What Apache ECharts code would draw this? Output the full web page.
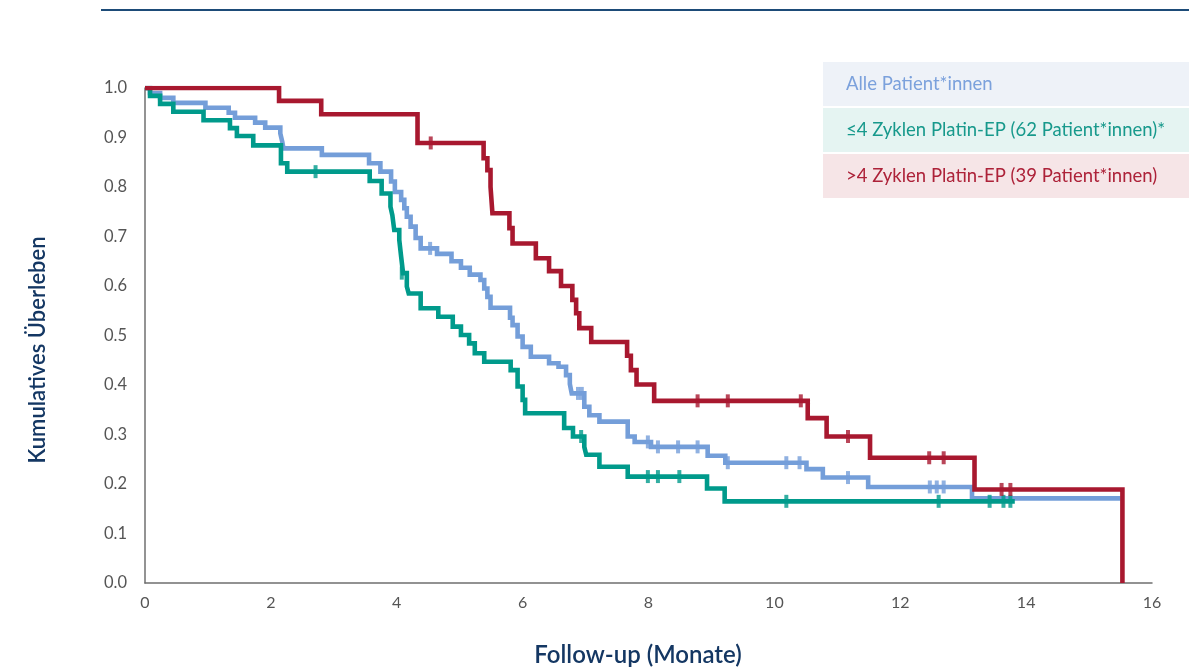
<!DOCTYPE html>
<html>
<head>
<meta charset="utf-8">
<script src="https://cdn.jsdelivr.net/npm/echarts@6/dist/echarts.min.js"></script>
<style>
html,body{margin:0;padding:0;background:#fff;}
#chart{width:1189px;height:669px;}
</style>
</head>
<body>
<div id="chart"></div>
<script>
// ---- Data ----
const seriesNames = ['Alle Patient*innen', '≤4 Zyklen Platin-EP (62 Patient*innen)*', '>4 Zyklen Platin-EP (39 Patient*innen)'];
const xAxisTitle = 'Follow-up (Monate)';
const yAxisTitle = 'Kumulatives Überleben';
const xTicks = [0, 2, 4, 6, 8, 10, 12, 14, 16];
const yTicks = [0, 0.1, 0.2, 0.3, 0.4, 0.5, 0.6, 0.7, 0.8, 0.9, 1.0];

// All patients: [time (months), survival]
const allCurve = [
  [0, 1.0], [0.08, 0.99], [0.24, 0.98], [0.45, 0.97], [0.96, 0.96], [1.33, 0.95], [1.43, 0.94],
  [1.75, 0.93], [1.91, 0.92], [2.15, 0.908], [2.18, 0.892], [2.20, 0.878], [2.81, 0.865],
  [3.56, 0.848], [3.74, 0.831], [3.91, 0.811], [3.97, 0.79], [4.07, 0.774], [4.12, 0.757],
  [4.16, 0.740], [4.22, 0.720], [4.30, 0.697], [4.38, 0.676], [4.64, 0.665], [4.87, 0.650],
  [5.02, 0.637], [5.16, 0.623], [5.33, 0.612], [5.39, 0.595], [5.44, 0.578], [5.49, 0.556],
  [5.80, 0.536], [5.84, 0.521], [5.92, 0.498], [6.00, 0.477], [6.13, 0.457], [6.42, 0.444],
  [6.57, 0.437], [6.69, 0.420], [6.75, 0.402], [6.78, 0.383], [6.98, 0.356], [7.06, 0.339],
  [7.22, 0.326], [7.67, 0.296], [7.78, 0.285], [8.04, 0.275], [8.94, 0.257], [9.22, 0.243],
  [10.51, 0.230], [10.77, 0.213], [11.49, 0.194], [13.14, 0.171], [15.50, 0.171]
];
const allCensor = [
  [4.53, 0.676], [6.88, 0.383], [6.94, 0.383], [7.99, 0.285], [8.15, 0.275], [8.47, 0.275],
  [8.78, 0.275], [9.26, 0.243], [10.19, 0.243], [10.40, 0.243], [11.17, 0.213],
  [12.47, 0.194], [12.58, 0.194], [12.69, 0.194]
];

// <=4 cycles
const lowCurve = [
  [0, 1.0], [0.08, 0.984], [0.24, 0.968], [0.45, 0.952], [0.93, 0.935], [1.35, 0.919],
  [1.46, 0.903], [1.72, 0.884], [2.16, 0.848], [2.26, 0.831], [3.57, 0.812], [3.76, 0.787],
  [3.90, 0.760], [3.93, 0.743], [3.96, 0.713], [4.04, 0.693], [4.07, 0.659], [4.10, 0.626],
  [4.16, 0.599], [4.19, 0.585], [4.38, 0.555], [4.66, 0.538], [4.89, 0.518], [5.02, 0.501],
  [5.15, 0.484], [5.24, 0.464], [5.39, 0.447], [5.81, 0.430], [5.92, 0.397], [6.00, 0.370],
  [6.04, 0.343], [6.66, 0.313], [6.80, 0.296], [6.98, 0.275], [7.01, 0.259], [7.22, 0.235],
  [7.67, 0.215], [8.93, 0.191], [9.21, 0.165], [13.82, 0.165]
];
const lowCensor = [
  [2.71, 0.831], [4.08, 0.626], [6.93, 0.296], [7.99, 0.215], [8.15, 0.215], [8.49, 0.215],
  [10.19, 0.165], [12.61, 0.165], [13.42, 0.165], [13.64, 0.165], [13.75, 0.165]
];

// >4 cycles
const highCurve = [
  [0, 1.0], [2.13, 0.974], [2.80, 0.947], [4.33, 0.889], [5.38, 0.858], [5.44, 0.834],
  [5.49, 0.800], [5.52, 0.747], [5.79, 0.717], [5.84, 0.686], [6.21, 0.656], [6.42, 0.630],
  [6.61, 0.600], [6.79, 0.572], [6.85, 0.545], [6.90, 0.515], [7.09, 0.487], [7.66, 0.459],
  [7.72, 0.430], [7.81, 0.401], [8.09, 0.368], [10.53, 0.333], [10.83, 0.296], [11.52, 0.253],
  [13.18, 0.189], [15.53, 0.0]
];
const highCensor = [
  [4.54, 0.889], [8.78, 0.368], [9.26, 0.368], [10.42, 0.368], [11.17, 0.296],
  [12.46, 0.253], [12.69, 0.253], [13.61, 0.189], [13.75, 0.189]
];

// ---- Styling ----
const colors = ['#749ed9', '#009a8b', '#a8182f'];
const legendBg = ['#eef2f8', '#e5f4f2', '#f6e5e7'];
const legendText = ['#7ba1dc', '#17998c', '#ad2239'];
const FONT = 'Lato, "Open Sans", sans-serif';

const chart = echarts.init(document.getElementById('chart'), null, {renderer: 'canvas'});

function lineSeries(name, data, color, z) {
  return {
    name: name, type: 'line', step: 'end', data: data, symbol: 'none', z: z,
    lineStyle: {color: color, width: 4.6, cap: 'butt', join: 'miter'},
    animation: false, silent: true
  };
}
function censorSeries(name, data, color, z) {
  return {
    name: name, type: 'scatter', data: data, symbol: 'rect', symbolSize: [4, 13], z: z,
    itemStyle: {color: color}, animation: false, silent: true
  };
}

const legendGraphics = [];
const rows = [[62, 44], [108, 44], [154, 44]];
seriesNames.forEach((n, i) => {
  legendGraphics.push({
    type: 'rect', shape: {x: 823, y: rows[i][0], width: 366, height: rows[i][1]},
    style: {fill: legendBg[i]}, silent: true
  });
  legendGraphics.push({
    type: 'text', x: 846, y: rows[i][0] + rows[i][1] / 2,
    style: {text: n, fill: legendText[i], font: '18.5px ' + FONT, textVerticalAlign: 'middle', textBaseline: 'middle'},
    silent: true
  });
});

chart.setOption({
  backgroundColor: '#fff',
  animation: false,
  grid: {left: 145, right: 37, top: 88, bottom: 86, containLabel: false},
  xAxis: {
    type: 'value', min: xTicks[0], max: xTicks[xTicks.length - 1], interval: 2,
    axisLine: {show: true, lineStyle: {color: '#6f6f6f', width: 1.5}},
    axisTick: {show: false},
    axisLabel: {color: '#555', fontSize: 16, fontFamily: FONT, margin: 12},
    splitLine: {show: false}
  },
  yAxis: {
    type: 'value', min: yTicks[0], max: yTicks[yTicks.length - 1], interval: 0.1,
    axisLine: {show: true, lineStyle: {color: '#6f6f6f', width: 1.5}},
    axisTick: {show: false},
    axisLabel: {color: '#555', fontSize: 16.5, fontFamily: FONT, margin: 18, formatter: v => v.toFixed(1)},
    splitLine: {show: false}
  },
  graphic: [
    {type: 'line', shape: {x1: 101, y1: 10, x2: 1189, y2: 10}, style: {stroke: '#1d4b78', lineWidth: 2}, silent: true},
    {type: 'text', x: 638, y: 655,
     style: {text: xAxisTitle, fill: '#143763', font: '600 24px ' + FONT, textAlign: 'center', textVerticalAlign: 'middle'}, silent: true},
    {type: 'text', x: 38, y: 350, rotation: Math.PI / 2,
     style: {text: yAxisTitle, fill: '#143763', font: '600 22px ' + FONT, textAlign: 'center', textVerticalAlign: 'middle'}, silent: true}
  ].concat(legendGraphics),
  series: [
    lineSeries(seriesNames[0], allCurve, colors[0], 2),
    censorSeries(seriesNames[0], allCensor, colors[0], 2),
    lineSeries(seriesNames[1], lowCurve, colors[1], 3),
    censorSeries(seriesNames[1], lowCensor, colors[1], 3),
    lineSeries(seriesNames[2], highCurve, colors[2], 4),
    censorSeries(seriesNames[2], highCensor, colors[2], 4)
  ]
});
</script>
</body>
</html>
